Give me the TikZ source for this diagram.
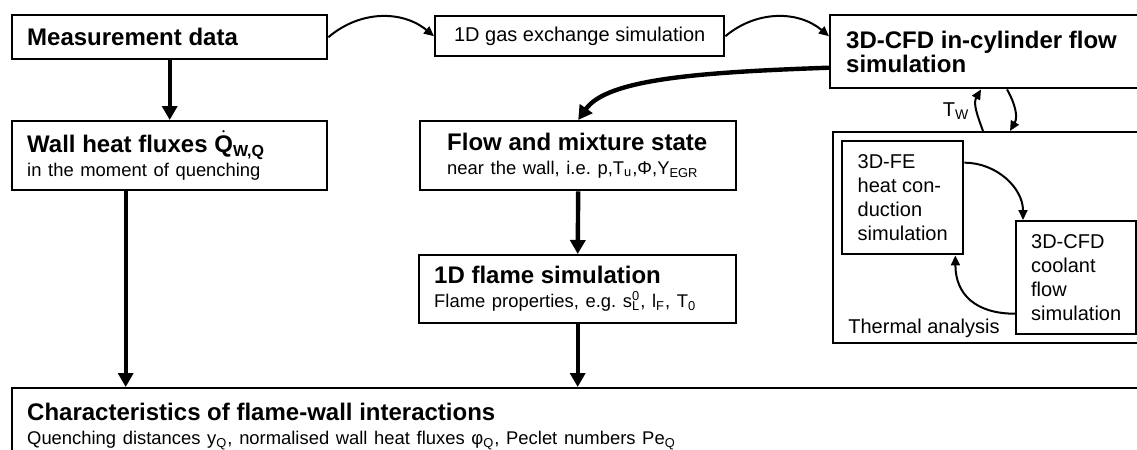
\documentclass[tikz,border=0pt]{standalone}
\usepackage{fontspec}
\setmainfont{Liberation Sans}
\usetikzlibrary{arrows.meta}
\frenchspacing

\newcommand{\hdfont}{\fontsize{12}{14.5}\selectfont\bfseries}
\newcommand{\smfont}{\fontsize{9.2}{11}\selectfont\mdseries}

\tikzset{
  stage/.style={draw, line width=1.2pt, anchor=north west, align=left, inner ysep=0pt},
  flowarrow/.style={line width=2.2pt, -{Triangle[length=7pt,width=7.5pt]}},
  linkarrow/.style={line width=1pt, -{Triangle[length=5pt,width=4.5pt]}},
}

\begin{document}
\begin{tikzpicture}[x=0.5pt, y=0.5pt, font=\fontsize{10}{12}\selectfont]
  \useasboundingbox (0,0) rectangle (1137,-450);
  \clip (0,0) rectangle (1137,-450);

  % Top row
  \node[stage, text width=142.5pt, inner xsep=7.5pt, minimum height=22pt] (meas) at (11,-14)
    {\hdfont Measurement data};
  \node[stage, inner xsep=0pt, minimum width=144.5pt, minimum height=20pt] (gas) at (434,-15)
    {1D gas exchange simulation};
  \node[stage, text width=200pt, inner xsep=8pt, minimum height=36.5pt] (cfd) at (829,-14)
    {\hdfont \mbox{3D-CFD in-cylinder flow}\\\mbox{simulation}};

  % Middle row
  \node[stage, text width=142.5pt, inner xsep=7.5pt, minimum height=34.5pt] (wall) at (11,-120)
    {\hdfont \mbox{Wall heat fluxes $\dot{\mbox{Q}}$\textsubscript{W,Q}}\\
     \smfont \mbox{in the moment of quenching}};
  \node[stage, text width=131pt, inner xsep=13.5pt, minimum height=34.5pt] (flow) at (419,-120)
    {\hdfont \mbox{Flow and mixture state}\\
     \smfont \mbox{near the wall, i.e. p,T\textsubscript{u},Φ,Y\textsubscript{EGR}}};
  \node[stage, text width=143.5pt, inner xsep=7.5pt, minimum height=34pt] (flame) at (418,-254)
    {\hdfont \mbox{1D flame simulation}\\
     \smfont \mbox{Flame properties, e.g. s\rlap{\textsubscript{L}}\textsuperscript{0}, l\textsubscript{F}, T\textsubscript{0}}};

  % Thermal analysis
  \node[stage, minimum width=209pt, minimum height=105.5pt] (thermal) at (832,-131) {};
  \node[stage, inner xsep=0pt, minimum width=60.5pt, minimum height=56.5pt] (fe) at (841,-140)
    {3D-FE\\heat con-\\duction\\simulation};
  \node[stage, inner xsep=0pt, minimum width=60pt, minimum height=56.5pt] (coolant) at (1015,-220)
    {3D-CFD\\coolant\\flow\\simulation};
  \node[anchor=base west, inner sep=0pt] (thlabel) at ([shift={(8pt,5.5pt)}]thermal.south west)
    {Thermal analysis};
  \node (tw) at (956,-111) {T\textsubscript{W}};

  % Bottom
  \node[stage, text width=600pt, inner xsep=7.5pt, inner ysep=7.5pt] (char) at (11,-387)
    {\hdfont \mbox{Characteristics of flame-wall interactions}\\
     \fontsize{9.2}{12.5}\selectfont\mdseries \mbox{Quenching distances y\textsubscript{Q}, normalised wall heat fluxes φ\textsubscript{Q}, Peclet numbers Pe\textsubscript{Q}}};

  % Main arrows
  \draw[flowarrow] (meas.south) -- (wall.north);
  \draw[flowarrow] ([xshift=-22pt]wall.south) -- ([xshift=-22pt]wall.south |- char.north);
  \draw[flowarrow] (flow.south) -- (flame.north);
  \draw[flowarrow] (flame.south) -- (flame.south |- char.north);
  \draw[flowarrow] ([yshift=-8pt]cfd.west) to[out=182, in=55, out distance=65pt, in distance=25pt] (flow.north);

  % Thin links
  \draw[linkarrow] (meas.east) to[bend left=40] (gas.west);
  \draw[linkarrow] (gas.east) to[bend left=40] (gas.east -| cfd.west);
  \draw[linkarrow] ([xshift=75.5pt]thermal.north west) to[out=110, in=-120] ([xshift=76pt]cfd.south west);
  \draw[linkarrow] ([xshift=89pt]cfd.south west) to[out=-60, in=60] ([xshift=89pt]thermal.north west);
  \draw[linkarrow] ([yshift=17.5pt]fe.east) to[out=0, in=90] ([xshift=4pt]coolant.north west);
  \draw[linkarrow] ([yshift=-18pt]coolant.west) to[out=180, in=-90, looseness=1.2] ([xshift=-4.5pt]fe.south east);
\end{tikzpicture}
\end{document}
